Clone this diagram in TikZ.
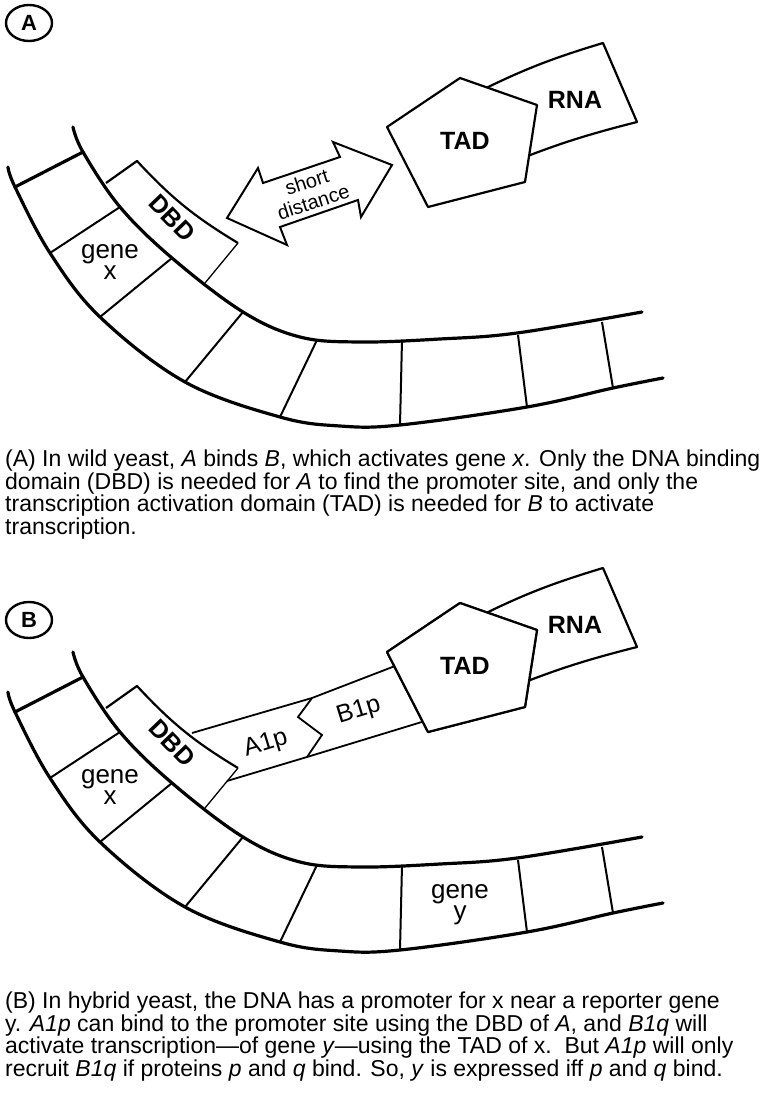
\documentclass[tikz,border=0pt]{standalone}
\usepackage{fontspec}
\setmainfont{Liberation Sans}
\usetikzlibrary{shapes.geometric}

\begin{document}
\begin{tikzpicture}[x=1pt, y=-1pt,
    strand/.style={line width=3.2pt, line cap=round},
    rung/.style={line width=2pt},
    part/.style={line width=2.2pt, line join=round},
    tag/.style={ellipse, draw, line width=2.4pt, minimum width=46pt, minimum height=36pt, inner sep=0pt, font=\fontsize{22}{22}\selectfont\bfseries},
    lbl/.style={inner sep=0pt, align=center, font=\fontsize{26}{21}\selectfont},
    boldlbl/.style={inner sep=0pt, font=\fontsize{25}{25}\selectfont\bfseries},
    caption/.style={inner sep=0pt, align=left, anchor=north west, font=\fontsize{23}{22.5}\selectfont}]

    \useasboundingbox (0,0) rectangle (764,1097);

    % 1. Nhan A, B
    \node[tag] (tagA) at (29,23) {A};
    \node[tag] (tagB) at (29,620) {B};

    % 2. DNA, DBD, RNA va TAD (giong nhau o hai hinh)
    \foreach \dy/\p in {0/A, 525/B} {
    \begin{scope}[yshift=-\dy pt]
        % hai soi DNA
        \draw[strand] plot[smooth, tension=0.6] coordinates {(73,127) (83,152) (120,207) (172,258) (243,312) (300,337) (360,342) (440,339) (517,333) (642,312)};
        \draw[strand] plot[smooth, tension=0.6] coordinates {(8,167) (15,187) (50,253) (100,317) (185,382) (280,417) (340,426) (400,425) (527,407) (613,388) (663,378)};
        % cac bac ngang
        \draw[strand] (15,187) -- (83,152);
        \foreach \xa/\ya/\xb/\yb in {50/253/120/207, 100/317/172/258, 185/382/243/312,
                                     280/417/317/340, 400/425/402/340, 527/407/518/335, 613/388/602/322}
            \draw[rung] (\xa,\ya) -- (\xb,\yb);
        \node[lbl] (genex\p) at (110,262) {gene\\x};
        % DBD
        \draw[part] (106,183) -- (137,161) to[bend right=8] (238,243);
        \draw[line width=1.3pt] (238,243) -- (205,283);
        \node[boldlbl, rotate=-46] (dbd\p) at (172,218) {DBD};
        % RNA phia sau TAD
        \draw[part, fill=white] (470,96) to[bend left=5] (603,43) -- (637,122) to[bend right=4] (500,167) -- cycle;
        \node[boldlbl] (rna\p) at (575,100) {RNA};
        % TAD
        \draw[part, fill=white] (460,78) -- (537,105) -- (525,182) -- (428,207) -- (387,127) -- cycle;
        \node[boldlbl] (tad\p) at (465,141) {TAD};
    \end{scope}
    }

    % 3. Hinh A: mui ten hai chieu
    \draw[line width=2pt, line join=miter] (227,218) -- (258,168) -- (263,183) -- (340,157) -- (333,142) -- (392,165)
        -- (361,217) -- (358,200) -- (280,227) -- (287,245) -- cycle;
    \node[lbl, font=\fontsize{20}{21}\selectfont, rotate=18] (dist) at (310,192) {short\\distance};

    % 4. Hinh B: A1p -- B1p
    \begin{scope}[line width=1.8pt]
        \draw (192,733) -- (312,698);
        \draw (227,781) -- (307,757);
        \draw (312,698) -- (298,717) -- (322,735) -- (307,757);
        \draw (312,698) -- (395,666);
        \draw (307,757) -- (425,721);
    \end{scope}
    \draw[part, fill=white] (460,603) -- (537,630) -- (525,707) -- (428,732) -- (387,652) -- cycle;
    \node[boldlbl] (tadB2) at (465,666) {TAD};
    \node[lbl, font=\fontsize{25}{25}\selectfont, rotate=17] (a1p) at (266,744) {A1p};
    \node[lbl, font=\fontsize{25}{25}\selectfont, rotate=17] (b1p) at (359,711) {B1p};
    \node[lbl] (geney) at (460,905) {gene\\y};

    % 5. Chu thich
    \node[caption] (capA) at (5,450) {(A) In wild yeast, \textit{A} binds \textit{B}, which activates gene \textit{x}. Only the DNA binding\\
        domain (DBD) is needed for \textit{A} to find the promoter site, and only the\\
        transcription activation domain (TAD) is needed for \textit{B} to activate\\
        transcription.};
    \node[caption] (capB) at (5,992) {(B) In hybrid yeast, the DNA has a promoter for x near a reporter gene\\
        y. \textit{A1p} can bind to the promoter site using the DBD of \textit{A}, and \textit{B1q} will\\
        activate transcription—of gene \textit{y}—using the TAD of x.\ \ But \textit{A1p} will only\\
        recruit \textit{B1q} if proteins \textit{p} and \textit{q} bind. So, \textit{y} is expressed iff \textit{p} and \textit{q} bind.};

\end{tikzpicture}
\end{document}
